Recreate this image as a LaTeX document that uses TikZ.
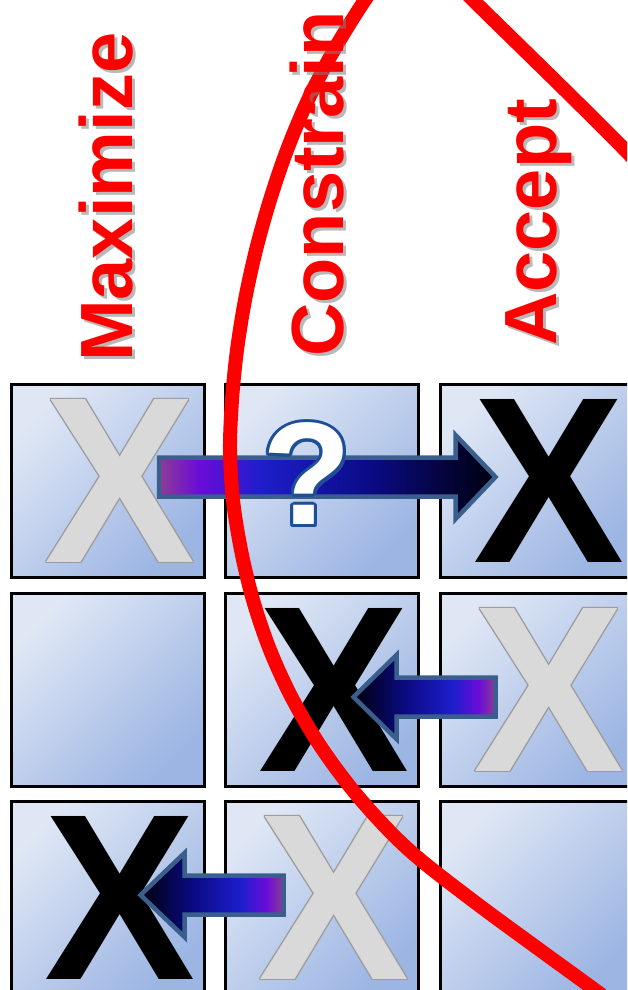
\documentclass[tikz,border=0pt]{standalone}
\usepackage{fontspec}
\setmainfont{Liberation Sans}
\usetikzlibrary{calc}

\definecolor{cellhi}{HTML}{DFE7F5}
\definecolor{celllo}{HTML}{9CB5E3}
\definecolor{arrowedge}{HTML}{3B5F8C}
\definecolor{qedge}{HTML}{1E4E96}
\definecolor{xgray}{HTML}{D9D9D9}
\definecolor{xedge}{HTML}{9C9C9C}
\definecolor{tailpurple}{HTML}{8E3C96}
\definecolor{midviolet}{HTML}{6A0CD8}
\definecolor{midblue}{HTML}{1E1ECC}
\definecolor{deepblue}{HTML}{0A0A82}
\definecolor{tipblack}{HTML}{00000C}

\pgfdeclarehorizontalshading{arrowgrad}{100bp}{%
  color(0bp)=(tailpurple); color(25bp)=(tailpurple); color(31bp)=(midviolet);
  color(40bp)=(midblue); color(57bp)=(deepblue); color(75bp)=(tipblack);
  color(100bp)=(tipblack)}

% tail x, head base x, tip x, y, shading angle
\newcommand\blockarrow[5]{%
  \path[arrowbody,shading angle=#5]
    (#1,#4-19.5) -- (#2,#4-19.5) -- (#2,#4-42) -- (#3,#4) -- (#2,#4+42)
    -- (#2,#4+19.5) -- (#1,#4+19.5) -- cycle;}

\newcommand\grayx[2]{%
  \foreach \a in {0,45,...,315}
    \node[bigx,text=xedge] (#1o) at ($(#2.center)+(12,0)+(\a:1.2)$) {X};
  \node[bigx,text=xgray] (#1) at ($(#2.center)+(12,0)$) {X};}

\begin{document}
\begin{tikzpicture}[x=1pt,y=-1pt,
  cell/.style={draw=black,line width=2.5pt,top color=cellhi,bottom color=celllo,
    shading angle=45,minimum width=193pt,minimum height=193pt,inner sep=0pt,
    anchor=north west},
  bigx/.style={font=\fontsize{237}{237}\selectfont\bfseries,inner sep=0pt,xscale=0.955},
  arrowbody/.style={shade,shading=arrowgrad,draw=arrowedge,line width=4.5pt,
    line join=miter},
  qmark/.style={font=\fontsize{146}{146}\selectfont\bfseries,inner sep=0pt},
  word/.style={font=\fontsize{74}{74}\selectfont\bfseries,inner sep=0pt,
    rotate=90,anchor=base west},
  ring/.style={draw=red,line width=14pt}]
  \useasboundingbox (0,0) rectangle (627,990);
  \clip (0,0) rectangle (627,990);

  \foreach \r/\yy in {1/383,2/592,3/800} {
    \foreach \c/\xx in {1/10,2/224,3/439} {
      \node[cell] (c\r\c) at (\xx,\yy) {};
    }
  }

  \grayx{x11}{c11}
  \node[bigx,text=black] (x13) at ($(c13.center)+(12,0)$) {X};
  \node[bigx,text=black] (x22) at ($(c22.center)+(12,0)$) {X};
  \grayx{x23}{c23}
  \node[bigx,text=black] (x31) at ($(c31.center)+(12,0)$) {X};
  \grayx{x32}{c32}

  \blockarrow{159}{455.5}{495.5}{477}{0}
  \blockarrow{495.5}{396.5}{353.5}{697}{180}
  \blockarrow{283.5}{184.5}{140.5}{895}{180}

  \draw[ring] plot[smooth,tension=0.55] coordinates {(700,235) (627,152) (473,0)
    (440,-33) (418,-55) (395,-40) (365,0) (334,50) (308,100) (287,150)
    (270,200) (256,250) (245,300) (237,350) (232,400) (230,450) (233,500)
    (241,550) (253,600) (270,650) (293,700) (323,750) (361,800) (409,850)
    (472,900) (540,950) (595,990) (690,1060)};

  \coordinate (qpos) at (307,474);
  \node[qmark,text=black!40,opacity=.4] (qsh) at ($(qpos)+(3,3)$) {?};
  \foreach \a in {0,22.5,...,337.5}
    \node[qmark,text=qedge] (qo) at ($(qpos)+(\a:3)$) {?};
  \node[qmark,text=white] (q) at (qpos) {?};

  \foreach \nm/\px/\py/\txt in {max/132/362/Maximize,con/343/357/Constrain,acc/556/346/Accept} {
    \node[word,text=black!50,opacity=.55] (\nm s) at (\px+3,\py+3) {\txt};
    \node[word,text=red] (\nm) at (\px,\py) {\txt};
  }
\end{tikzpicture}
\end{document}
